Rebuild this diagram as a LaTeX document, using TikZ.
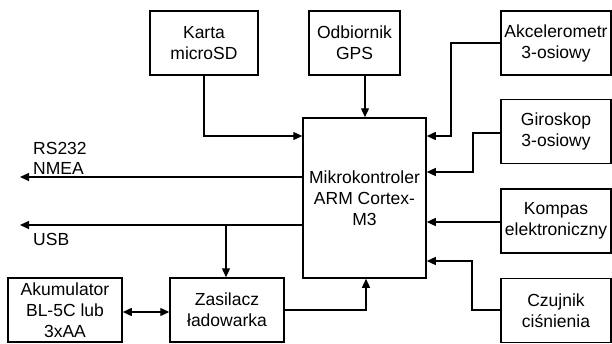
\documentclass[tikz,border=0pt]{standalone}
\usepackage{fontspec}
\setmainfont{Liberation Sans}
\usetikzlibrary{arrows.meta}
\begin{document}
\begin{tikzpicture}[x=1pt,y=-1pt,
  font=\fontsize{17.5}{21}\selectfont,
  blk/.style={draw, line width=1.5pt, align=center, inner sep=0pt},
  arr/.style={line width=1.3pt, -{Triangle[length=9pt,width=8pt]}},
  darr/.style={line width=1.3pt, {Triangle[length=9pt,width=8pt]}-{Triangle[length=9pt,width=8pt]}},
  lbl/.style={anchor=base west, inner sep=0pt}]
\useasboundingbox (0,0) rectangle (612,343);
\clip (0,0) rectangle (612,343);
% boxes
\node[blk, minimum width=108pt, minimum height=64pt] (karta) at (204,43) {Karta\\microSD};
\node[blk, minimum width=91pt, minimum height=64pt] (gps) at (354.5,43) {Odbiornik\\GPS};
\node[blk, minimum width=110pt, minimum height=64pt] (akc) at (556,43) {Akcelerometr\\3-osiowy};
\node[blk, minimum width=110pt, minimum height=64pt] (giro) at (556,131.5) {Giroskop\\3-osiowy};
\node[blk, minimum width=110pt, minimum height=64pt] (komp) at (556,221) {Kompas\\elektroniczny};
\node[blk, minimum width=110pt, minimum height=64pt] (czuj) at (556,310.5) {Czujnik\\ciśnienia};
\node[blk, minimum width=123pt, minimum height=160pt] (mcu) at (364.5,198) {Mikrokontroler\\ARM Cortex-\\M3};
\node[blk, minimum width=114pt, minimum height=64pt] (akum) at (65,310) {Akumulator\\BL-5C lub\\3xAA};
\node[blk, minimum width=114pt, minimum height=64pt] (zas) at (227,310) {Zasilacz\\ładowarka};
% free ends
\coordinate (rsend) at (20,177);
\coordinate (usbend) at (20,225);
\coordinate (usbtap) at (226,225);
% connectors
\draw[arr] (karta.south) |- (mcu.west |- 0,136);
\draw[arr] (gps.south -| 365,0) -- (mcu.north -| 365,0);
\draw[arr] (akc.west |- 0,43) -| (451,90) |- (mcu.east |- 0,136);
\draw[arr] (giro.west |- 0,133) -| (473,150) |- (mcu.east |- 0,172);
\draw[arr] (komp.west |- 0,222) -- (mcu.east |- 0,222);
\draw[arr] (czuj.west |- 0,310) -| (472,280) |- (mcu.east |- 0,261);
\draw[arr] (mcu.west |- rsend) -- (rsend);
\draw[arr] (mcu.west |- usbend) -- (usbend);
\draw[arr] (usbtap) -- (zas.north -| usbtap);
\draw[darr] (akum.east |- 0,312) -- (zas.west |- 0,312);
\draw[arr] (zas.east |- 0,310) -| (mcu.south -| 366,0);
% labels
\node[lbl] (rs) at (33,154) {RS232};
\node[lbl] (nmea) at (33,174) {NMEA};
\node[lbl] (usb) at (33,245) {USB};
\end{tikzpicture}
\end{document}
